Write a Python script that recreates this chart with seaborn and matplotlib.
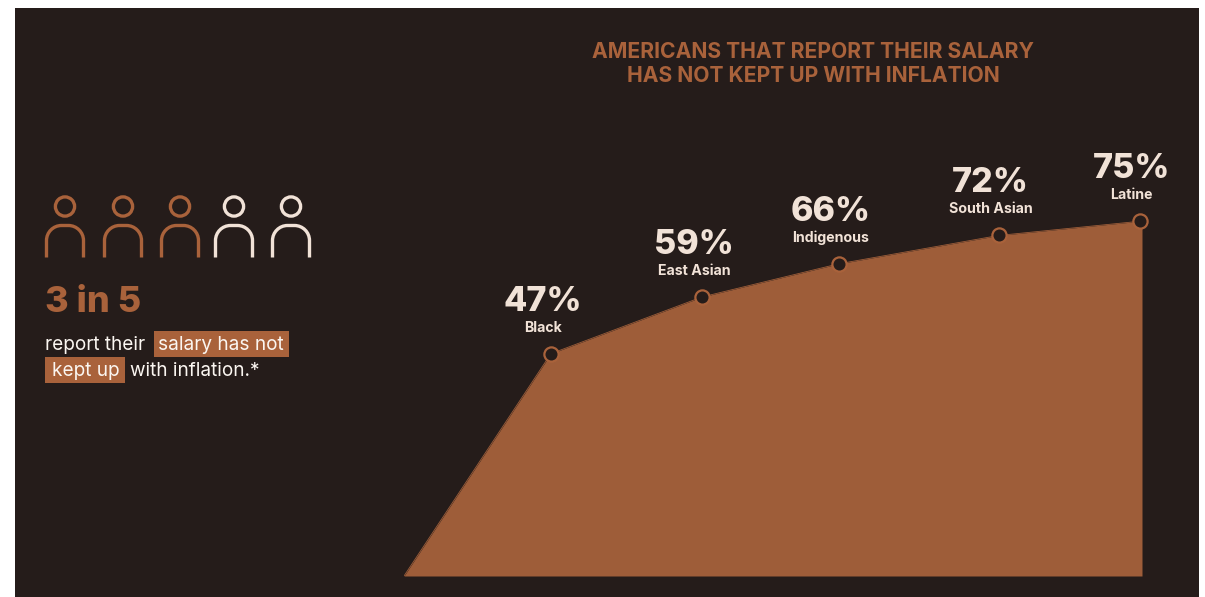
import matplotlib
matplotlib.use("Agg")
import matplotlib.pyplot as plt
import pandas as pd
import seaborn as sns
from matplotlib.patches import Circle, PathPatch, Rectangle
from matplotlib.path import Path

# Survey results by group
groups = ["Black", "East Asian", "Indigenous", "South Asian", "Latine"]
shares = [47, 59, 66, 72, 75]
group_pos = [19.9, 40.4, 58.9, 80.6, 99.7]
value_labels = ["47%", "59%", "66%", "72%", "75%"]

# Filled silhouette runs from zero up through the groups to the right edge
edge_pos = [0] + group_pos + [100]
edge_val = [0] + shares + [shares[-1]]

title_lines = ["AMERICANS THAT REPORT THEIR SALARY", "HAS NOT KEPT UP WITH INFLATION"]
people_filled = 3
people_total = 5

BG = "#251c1a"
BROWN = "#9e5d39"
ACCENT = "#a9623b"
CREAM = "#f1e2d7"
WHITE = "#fbf6f1"
FONT = "Inter"

W, H = 1205, 597
sns.set_theme(style="white")
plt.rcParams["font.family"] = [FONT, "DejaVu Sans"]

fig = plt.figure(figsize=(W / 100, H / 100), dpi=100, facecolor="white")

# Canvas layer in pixel units for the panel, icons and text column
bg = fig.add_axes([0, 0, 1, 1], zorder=0)
bg.set_xlim(0, W)
bg.set_ylim(H, 0)
bg.set_axis_off()
bg.add_patch(Rectangle((15, 8), 1184, 589, fc=BG, ec="none"))

# Title
for line, y in zip(title_lines, [52.5, 76]):
    bg.text(813, y, line, color=ACCENT, fontsize=15.2, fontweight="bold",
            ha="center", va="center")


def person(ax, head_x, color):
    """Outline figure: ring for the head, open arch for the shoulders."""
    ax.add_patch(Circle((head_x, 206.5), 9.6, fc="none", ec=color, lw=2.4))
    left, right = head_x - 18.5, head_x + 18.5
    top, bottom, r = 225.5, 257.5, 15
    k = 0.55 * r
    verts = [(left, bottom), (left, top + r),
             (left, top + r - k), (left + r - k, top), (left + r, top),
             (right - r, top),
             (right - r + k, top), (right, top + r - k), (right, top + r),
             (right, bottom)]
    codes = [Path.MOVETO, Path.LINETO,
             Path.CURVE4, Path.CURVE4, Path.CURVE4,
             Path.LINETO,
             Path.CURVE4, Path.CURVE4, Path.CURVE4,
             Path.LINETO]
    ax.add_patch(PathPatch(Path(verts, codes), fc="none", ec=color, lw=2.4,
                           capstyle="butt"))


for i, hx in enumerate([65, 123, 180, 234, 291][:people_total]):
    person(bg, hx, ACCENT if i < people_filled else CREAM)

# Left-hand statement
bg.text(45, 302, "3 in 5", color=ACCENT, fontsize=26, fontweight=800,
        ha="left", va="center")
bg.add_patch(Rectangle((154, 331), 135, 26, fc=ACCENT, ec="none"))
bg.add_patch(Rectangle((45, 357), 80, 26, fc=ACCENT, ec="none"))
for x, y, s in [(45, 344.5, "report their"), (158, 344.5, "salary has not"),
                (52, 370.5, "kept up"), (130, 370.5, "with inflation.*")]:
    bg.text(x, y, s, color=WHITE, fontsize=13.7, fontweight="regular",
            ha="left", va="center")

# Chart layer: x runs 0-100 across the silhouette, y is the percentage
ax = fig.add_axes([404 / W, (H - 576) / H, 738 / W, 473 / H], zorder=1)
ax.patch.set_alpha(0)
ax.set_xlim(0, 100)
ax.set_ylim(0, 100)
ax.set_axis_off()

edge = pd.DataFrame({"pos": edge_pos, "val": edge_val})
points = pd.DataFrame({"pos": group_pos, "val": shares, "group": groups})

ax.fill_between(edge["pos"], 0, edge["val"], color=BROWN, lw=0)
sns.lineplot(data=edge, x="pos", y="val", ax=ax, color=BROWN, lw=0.6, legend=False)
sns.scatterplot(data=points, x="pos", y="val", ax=ax, s=105, color=BG,
                edgecolor=ACCENT, linewidth=1.6, clip_on=False, zorder=5,
                legend=False)
ax.set_xlim(0, 100)
ax.set_ylim(0, 100)
ax.set_axis_off()

for px, val, group, label in zip(group_pos, shares, groups, value_labels):
    ax.annotate(label, (px, val), xytext=(-5.8, 37.5), textcoords="offset points",
                color=CREAM, fontsize=24.5, fontweight=800,
                ha="center", va="center", annotation_clip=False)
    ax.annotate(group, (px, val), xytext=(-5.8, 18.8), textcoords="offset points",
                color=CREAM, fontsize=10.2, fontweight="bold",
                ha="center", va="center", annotation_clip=False)

fig.savefig("out.png", dpi=100, facecolor=fig.get_facecolor())
